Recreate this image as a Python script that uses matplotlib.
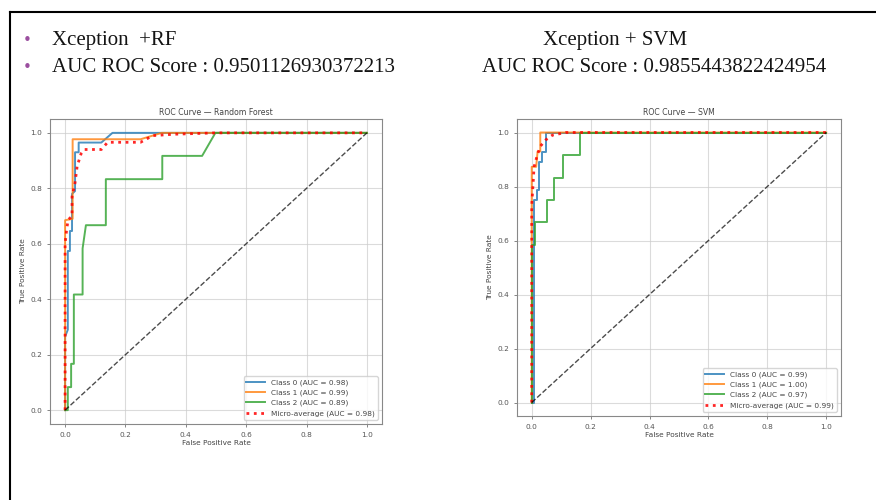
import matplotlib
matplotlib.use("Agg")
import matplotlib.pyplot as plt
from matplotlib.lines import Line2D

### Data

# Random Forest
rf_fpr0 = [0, 0, 0.009, 0.009, 0.016, 0.016, 0.023, 0.023, 0.033, 0.033, 0.045, 0.045, 0.056, 0.12, 0.157, 1.0]
rf_tpr0 = [0, 0.265, 0.29, 0.574, 0.574, 0.646, 0.646, 0.78, 0.79, 0.93, 0.93, 0.965, 0.965, 0.965, 1.0, 1.0]
rf_fpr1 = [0, 0, 0.025, 0.025, 0.25, 0.29, 0.32, 1.0]
rf_tpr1 = [0, 0.685, 0.69, 0.977, 0.977, 0.99, 1.0, 1.0]
rf_fpr2 = [0, 0.009, 0.009, 0.02, 0.02, 0.029, 0.029, 0.058, 0.058, 0.069, 0.135, 0.135, 0.322, 0.322, 0.454, 0.498, 1.0]
rf_tpr2 = [0, 0, 0.083, 0.083, 0.167, 0.167, 0.417, 0.417, 0.583, 0.667, 0.667, 0.833, 0.833, 0.917, 0.917, 1.0, 1.0]
rf_fprm = [0, 0, 0.005, 0.01, 0.023, 0.023, 0.033, 0.04, 0.053, 0.064, 0.12, 0.141, 0.25, 0.29, 0.36, 0.5, 1.0]
rf_tprm = [0, 0.6, 0.65, 0.686, 0.70, 0.77, 0.82, 0.88, 0.925, 0.94, 0.94, 0.966, 0.966, 0.99, 0.995, 1.0, 1.0]
rf_auc = [0.98, 0.99, 0.89, 0.98]

# SVM
sv_fpr0 = [0, 0.009, 0.009, 0.017, 0.017, 0.026, 0.026, 0.035, 0.035, 0.048, 0.048, 1.0]
sv_tpr0 = [0, 0, 0.75, 0.75, 0.787, 0.787, 0.891, 0.891, 0.928, 0.928, 1.0, 1.0]
sv_fpr1 = [0, 0, 0.015, 0.02, 0.029, 0.029, 1.0]
sv_tpr1 = [0, 0.873, 0.873, 0.93, 0.93, 1.0, 1.0]
sv_fpr2 = [0, 0.002, 0.002, 0.012, 0.012, 0.051, 0.051, 0.077, 0.077, 0.105, 0.105, 0.164, 0.164, 1.0]
sv_tpr2 = [0, 0, 0.583, 0.583, 0.667, 0.667, 0.75, 0.75, 0.833, 0.833, 0.917, 0.917, 1.0, 1.0]
sv_fprm = [0, 0, 0.004, 0.008, 0.02, 0.03, 0.048, 0.07, 0.115, 1.0]
sv_tprm = [0, 0.73, 0.8, 0.873, 0.92, 0.95, 0.973, 0.99, 1.0, 1.0]
sv_auc = [0.99, 1.00, 0.97, 0.99]

W, H = 876, 500
fig = plt.figure(figsize=(W / 100, H / 100), dpi=100)
fig.patch.set_facecolor('white')


def fx(px):
    return px / W


def fy(py):
    return 1 - py / H


# slide frame
fig.add_artist(Line2D([fx(10), 1.0], [fy(12), fy(12)], color='black', lw=1.5))
fig.add_artist(Line2D([fx(10), fx(10)], [fy(12), 0.0], color='black', lw=1.5))

# slide text
serif = 'Liberation Serif'
txt_c = '#141414'
bullet_c = '#9b4f9f'
fig.text(fx(23), fy(45), '\u2022', color=bullet_c, fontsize=11, va='baseline')
fig.text(fx(23), fy(72.5), '\u2022', color=bullet_c, fontsize=11, va='baseline')
fig.text(fx(52), fy(45), 'Xception  +RF', family=serif, fontsize=15, color=txt_c, va='baseline')
fig.text(fx(52), fy(72.5), 'AUC ROC Score : 0.9501126930372213', family=serif, fontsize=15,
         color=txt_c, va='baseline')
fig.text(fx(543), fy(45), 'Xception + SVM', family=serif, fontsize=15, color=txt_c, va='baseline')
fig.text(fx(482), fy(72.5), 'AUC ROC Score : 0.9855443822424954', family=serif, fontsize=15,
         color=txt_c, va='baseline')


def roc_panel(rect, title, curves, aucs):
    ax = fig.add_axes(rect)
    names = ['Class 0', 'Class 1', 'Class 2']
    cols = ['#1f77b4', '#ff7f0e', '#2ca02c']
    for (f, t), n, c, a in zip(curves[:3], names, cols, aucs[:3]):
        ax.plot(f, t, color=c, lw=1.4, alpha=0.8, label=f'{n} (AUC = {a:.2f})')
    f, t = curves[3]
    ax.plot(f, t, color='red', ls=':', lw=2.0, alpha=0.85,
            label=f'Micro-average (AUC = {aucs[3]:.2f})')
    ax.plot([0, 1], [0, 1], 'k--', lw=1.0, alpha=0.7)
    ax.set_xlim(-0.05, 1.05)
    ax.set_ylim(-0.05, 1.05)
    ax.set_xticks([0, 0.2, 0.4, 0.6, 0.8, 1.0])
    ax.set_yticks([0, 0.2, 0.4, 0.6, 0.8, 1.0])
    ax.grid(color='#cccccc', lw=0.8, alpha=0.7)
    ax.tick_params(labelsize=5.3, colors='#555555', length=2, width=0.5)
    for s in ax.spines.values():
        s.set_color('#888888')
        s.set_linewidth(0.8)
    ax.set_title(title, fontsize=5.6, color='#444444', pad=3)
    ax.set_xlabel('False Positive Rate', fontsize=5.3, color='#444444', labelpad=2)
    ax.set_ylabel('True Positive Rate', fontsize=5.3, color='#444444', labelpad=3)
    ax.legend(loc='lower right', fontsize=5.3, frameon=True, handlelength=2.5,
              labelcolor='#444444', borderaxespad=0.6)
    return ax


roc_panel([fx(50), fy(424), fx(382) - fx(50), fy(119) - fy(424)],
          'ROC Curve \u2014 Random Forest',
          [(rf_fpr0, rf_tpr0), (rf_fpr1, rf_tpr1), (rf_fpr2, rf_tpr2), (rf_fprm, rf_tprm)],
          rf_auc)
roc_panel([fx(517), fy(416), fx(841) - fx(517), fy(119) - fy(416)],
          'ROC Curve \u2014 SVM',
          [(sv_fpr0, sv_tpr0), (sv_fpr1, sv_tpr1), (sv_fpr2, sv_tpr2), (sv_fprm, sv_tprm)],
          sv_auc)

fig.savefig('out.png', dpi=100)
